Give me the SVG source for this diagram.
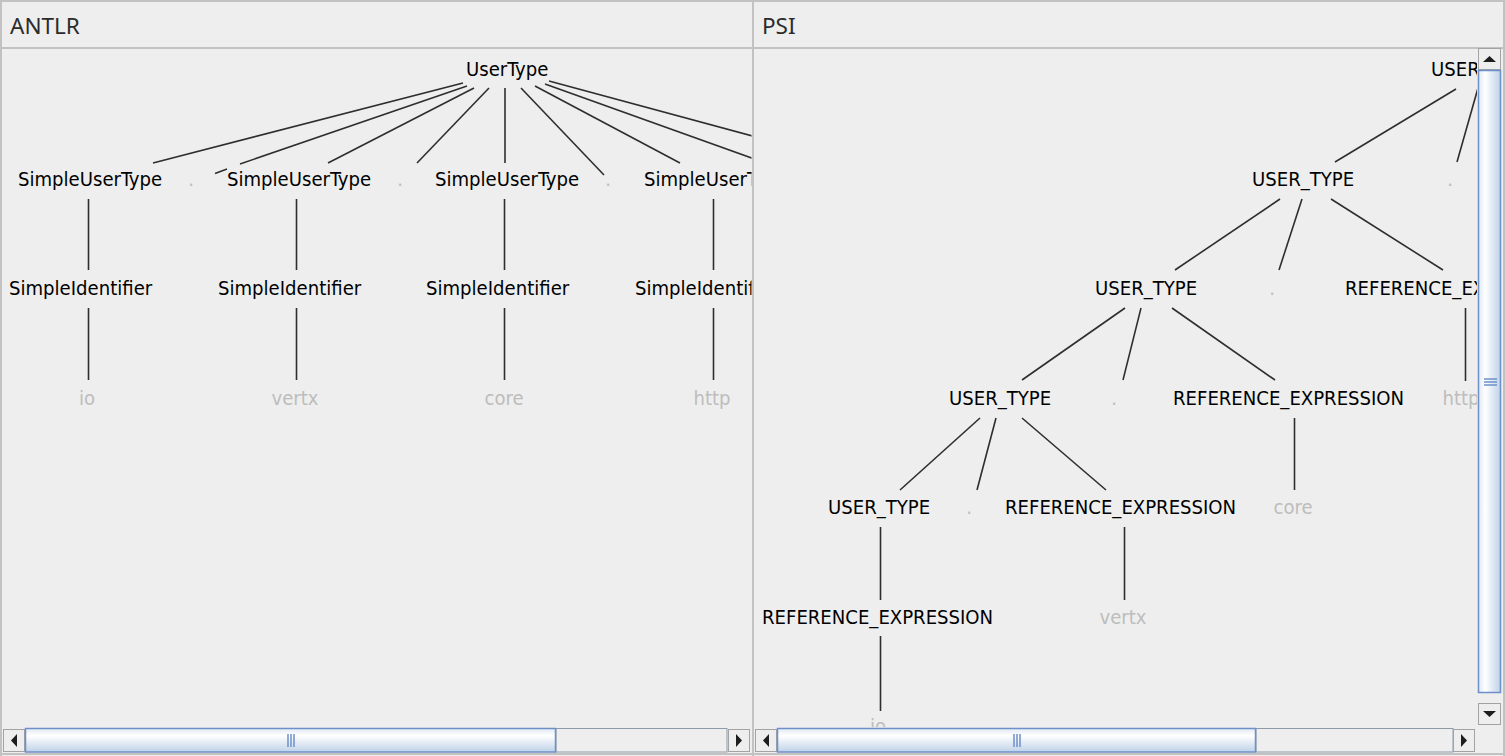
<svg xmlns="http://www.w3.org/2000/svg" width="1505" height="756" viewBox="0 0 1505 756">
<style>
.hdr{font-family:"Noto Sans","DejaVu Sans",sans-serif;font-size:22.5px;fill:#2b2b2b}
.n{font-family:"DejaVu Sans Condensed","DejaVu Sans",sans-serif;font-stretch:condensed;font-size:20.1px;fill:#000}
.lf{font-family:"DejaVu Sans Condensed","DejaVu Sans",sans-serif;font-stretch:condensed;font-size:20.1px;fill:#bdbdbd}
.ln{stroke:#2e2e2e;stroke-width:1.6;fill:none}
.btn{fill:#eeeeee;stroke:#a3a3a3;stroke-width:1}
.thumb{stroke:#6e8fc8;stroke-width:1.5}
.grip{stroke:#6e8fc8;stroke-width:1.5}
.track{fill:#eeeeee;stroke:#8d9aa8;stroke-width:1}
.tri{fill:#1e1e1e}
</style>
<defs>
<linearGradient id="gh" x1="0" y1="0" x2="0" y2="1">
<stop offset="0" stop-color="#dfe9f5"/><stop offset="0.3" stop-color="#ffffff"/><stop offset="1" stop-color="#bed2e8"/>
</linearGradient>
<linearGradient id="gv" x1="0" y1="0" x2="1" y2="0">
<stop offset="0" stop-color="#dfe9f5"/><stop offset="0.3" stop-color="#ffffff"/><stop offset="1" stop-color="#bed2e8"/>
</linearGradient>
<clipPath id="cl"><rect x="2" y="49" width="749.5" height="678"/></clipPath>
<clipPath id="cr"><rect x="755" y="49" width="723" height="678"/></clipPath>
</defs>
<rect x="0" y="0" width="1505" height="756" fill="#eeeeee"/>
<g id="frame" fill="none" stroke="#c2c2c2" stroke-width="2">
<line x1="0" y1="1" x2="1505" y2="1"/>
<line x1="1" y1="0" x2="1" y2="756"/>
<line x1="0" y1="48" x2="1505" y2="48"/>
<line x1="753" y1="0" x2="753" y2="756"/>
<line x1="1504" y1="0" x2="1504" y2="756"/>
<line x1="0" y1="754" x2="1505" y2="754"/>
</g>
<text class="hdr" x="10" y="34">ANTLR</text>
<text class="hdr" x="762" y="34">PSI</text>

<g clip-path="url(#cl)">
<g id="connectors-antlr">
<line class="ln" x1="463" y1="83" x2="153" y2="163"/>
<line class="ln" x1="467" y1="86" x2="240" y2="164"/>
<line class="ln" x1="227" y1="169" x2="215" y2="173.5"/>
<line class="ln" x1="474" y1="88" x2="328" y2="163"/>
<line class="ln" x1="489" y1="88" x2="417" y2="163"/>
<line class="ln" x1="505" y1="88" x2="505" y2="163"/>
<line class="ln" x1="521" y1="88" x2="604" y2="175"/>
<line class="ln" x1="535" y1="86" x2="680" y2="163"/>
<line class="ln" x1="545" y1="84" x2="760" y2="161"/>
<line class="ln" x1="549" y1="81" x2="760" y2="138"/>
<line class="ln" x1="88.5" y1="199" x2="88.5" y2="270"/>
<line class="ln" x1="296.5" y1="199" x2="296.5" y2="270"/>
<line class="ln" x1="504.5" y1="199" x2="504.5" y2="270"/>
<line class="ln" x1="713.5" y1="199" x2="713.5" y2="270"/>
<line class="ln" x1="88.5" y1="308" x2="88.5" y2="380"/>
<line class="ln" x1="296.5" y1="308" x2="296.5" y2="380"/>
<line class="ln" x1="504.5" y1="308" x2="504.5" y2="380"/>
<line class="ln" x1="713.5" y1="308" x2="713.5" y2="380"/>
</g>
<g id="a-usertype"><text class="n" x="466" y="76">UserType</text></g>
<g id="a-sut1"><text class="n" x="18" y="186">SimpleUserType</text></g>
<g id="a-dot1"><text class="lf" x="191" y="186" text-anchor="middle">.</text></g>
<g id="a-sut2"><text class="n" x="227" y="186">SimpleUserType</text></g>
<g id="a-dot2"><text class="lf" x="400" y="186" text-anchor="middle">.</text></g>
<g id="a-sut3"><text class="n" x="435" y="186">SimpleUserType</text></g>
<g id="a-dot3"><text class="lf" x="608" y="186" text-anchor="middle">.</text></g>
<g id="a-sut4"><text class="n" x="644" y="186">SimpleUserType</text></g>
<g id="a-si1"><text class="n" x="9" y="295">SimpleIdentifier</text></g>
<g id="a-si2"><text class="n" x="218" y="295">SimpleIdentifier</text></g>
<g id="a-si3"><text class="n" x="426" y="295">SimpleIdentifier</text></g>
<g id="a-si4"><text class="n" x="635" y="295">SimpleIdentifier</text></g>
<g id="a-io"><text class="lf" x="87" y="405" text-anchor="middle">io</text></g>
<g id="a-vertx"><text class="lf" x="295" y="405" text-anchor="middle">vertx</text></g>
<g id="a-core"><text class="lf" x="504" y="405" text-anchor="middle">core</text></g>
<g id="a-http"><text class="lf" x="712" y="405" text-anchor="middle">http</text></g>
</g>

<g clip-path="url(#cr)">
<g id="connectors-psi">
<line class="ln" x1="1456" y1="89" x2="1335" y2="162"/>
<line class="ln" x1="1478" y1="88" x2="1457" y2="162"/>
<line class="ln" x1="1280" y1="199" x2="1175" y2="270"/>
<line class="ln" x1="1302" y1="199" x2="1279" y2="270"/>
<line class="ln" x1="1331" y1="199" x2="1443" y2="270"/>
<line class="ln" x1="1125" y1="308" x2="1022" y2="380"/>
<line class="ln" x1="1141" y1="308" x2="1123" y2="380"/>
<line class="ln" x1="1172" y1="308" x2="1275" y2="380"/>
<line class="ln" x1="1465.5" y1="308" x2="1465.5" y2="381"/>
<line class="ln" x1="980" y1="418" x2="900" y2="490"/>
<line class="ln" x1="996" y1="418" x2="977" y2="490"/>
<line class="ln" x1="1022" y1="418" x2="1106" y2="490"/>
<line class="ln" x1="1294.5" y1="418" x2="1294.5" y2="490"/>
<line class="ln" x1="880.5" y1="527" x2="880.5" y2="600"/>
<line class="ln" x1="1124.5" y1="527" x2="1124.5" y2="600"/>
<line class="ln" x1="880.5" y1="636" x2="880.5" y2="711"/>
</g>
<g id="p-ut1"><text class="n" x="1431" y="76">USER_TYPE</text></g>
<g id="p-ut2"><text class="n" x="1252" y="186">USER_TYPE</text></g>
<g id="p-dot1"><text class="lf" x="1450" y="186" text-anchor="middle">.</text></g>
<g id="p-ut3"><text class="n" x="1095" y="295">USER_TYPE</text></g>
<g id="p-dot2"><text class="lf" x="1272" y="295" text-anchor="middle">.</text></g>
<g id="p-re1"><text class="n" x="1345" y="295">REFERENCE_EXPRESSION</text></g>
<g id="p-ut4"><text class="n" x="949" y="405">USER_TYPE</text></g>
<g id="p-dot3"><text class="lf" x="1114" y="405" text-anchor="middle">.</text></g>
<g id="p-re2"><text class="n" x="1173" y="405">REFERENCE_EXPRESSION</text></g>
<g id="p-http"><text class="lf" x="1461" y="405" text-anchor="middle">http</text></g>
<g id="p-ut5"><text class="n" x="828" y="514">USER_TYPE</text></g>
<g id="p-dot4"><text class="lf" x="969" y="514" text-anchor="middle">.</text></g>
<g id="p-re3"><text class="n" x="1005" y="514">REFERENCE_EXPRESSION</text></g>
<g id="p-core"><text class="lf" x="1293" y="514" text-anchor="middle">core</text></g>
<g id="p-re4"><text class="n" x="762" y="624">REFERENCE_EXPRESSION</text></g>
<g id="p-vertx"><text class="lf" x="1123" y="624" text-anchor="middle">vertx</text></g>
<g id="p-io"><text class="lf" x="878" y="733" text-anchor="middle">io</text></g>
</g>

<g id="hscroll-left">
<rect x="3" y="728" width="748" height="25" fill="#eeeeee"/>
<rect class="track" x="556" y="728.5" width="171" height="23.5"/>
<rect class="btn" x="3.5" y="729.5" width="21" height="22"/>
<polygon class="tri" points="11,740.5 17,734 17,747"/>
<rect x="25.5" y="728.5" width="530" height="23.5" fill="url(#gh)" class="thumb"/>
<line class="grip" x1="288" y1="734" x2="288" y2="747"/><line class="grip" x1="291" y1="734" x2="291" y2="747"/><line class="grip" x1="294" y1="734" x2="294" y2="747"/>
<rect class="btn" x="728.5" y="729.5" width="21" height="22"/>
<polygon class="tri" points="742,740.5 736,734 736,747"/>
</g>
<g id="hscroll-right">
<rect x="755" y="728" width="722" height="25" fill="#eeeeee"/>
<rect class="track" x="1256" y="728.5" width="197" height="23.5"/>
<rect class="btn" x="755.5" y="729.5" width="21" height="22"/>
<polygon class="tri" points="763,740.5 769,734 769,747"/>
<rect x="777.5" y="728.5" width="478" height="23.5" fill="url(#gh)" class="thumb"/>
<line class="grip" x1="1014" y1="734" x2="1014" y2="747"/><line class="grip" x1="1017" y1="734" x2="1017" y2="747"/><line class="grip" x1="1020" y1="734" x2="1020" y2="747"/>
<rect class="btn" x="1453.5" y="729.5" width="21" height="22"/>
<polygon class="tri" points="1467,740.5 1461,734 1461,747"/>
</g>
<g id="vscroll-right">
<rect x="1477" y="49" width="26" height="678" fill="#eeeeee"/>
<rect class="btn" x="1478.5" y="48.5" width="22" height="21"/>
<polygon class="tri" points="1489.5,56 1483,62 1496,62"/>
<rect x="1478.5" y="70.5" width="22" height="622" fill="url(#gv)" class="thumb"/>
<line class="grip" x1="1484" y1="379" x2="1497" y2="379"/><line class="grip" x1="1484" y1="382" x2="1497" y2="382"/><line class="grip" x1="1484" y1="385" x2="1497" y2="385"/>
<rect class="btn" x="1478.5" y="703.5" width="22" height="21"/>
<polygon class="tri" points="1489.5,717 1483,711 1496,711"/>
</g>
</svg>
